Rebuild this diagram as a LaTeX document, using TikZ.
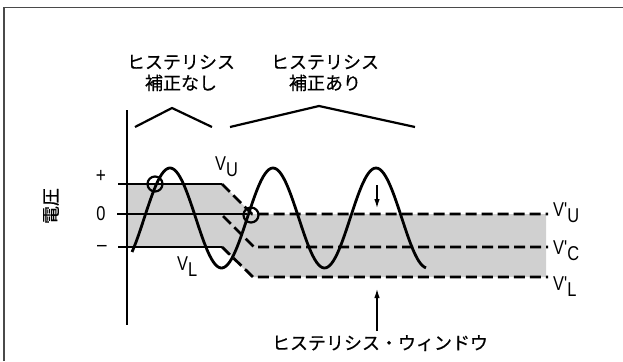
\documentclass[tikz,border=0pt]{standalone}
\usepackage{fontspec}
\usepackage{xcolor}
\usepackage{tikz}
\usetikzlibrary{arrows.meta,positioning}
\newfontfamily\jpfont[FakeBold=0.5]{Noto Sans CJK JP}
\newfontfamily\condfont[FakeStretch=0.82]{Liberation Sans}
\definecolor{WinGray}{HTML}{D0D0D0}
\definecolor{FrameGray}{HTML}{4A4A4A}

\begin{document}
\begin{tikzpicture}[x=1pt, y=-1pt, every node/.style={inner sep=0pt},
    jplabel/.style={font=\jpfont\fontsize{18}{21}\selectfont, align=center},
    vlabel/.style={font=\condfont\fontsize{20}{20}\selectfont, anchor=base west},
    trace/.style={line width=2.8pt},
    dashtrace/.style={line width=2.8pt, dash pattern=on 11pt off 5pt},
    pointer/.style={line width=1.2pt, -{Latex[length=9pt,width=5.5pt]}}]
    \useasboundingbox (0,0) rectangle (623,361);
    \draw[FrameGray, line width=1.6pt] (4,361) -- (4,7.5) -- (623,7.5);
    % hysteresis window
    \fill[WinGray] (127,184) -- (222,184) -- (252,214) -- (546,214) -- (546,277) -- (252,277) -- (222,247) -- (127,247) -- cycle;
    \draw[trace] (127,110) -- (127,325);
    \draw[trace] (118,184) -- (222,184);
    \draw[trace] (117,214) -- (247,214);
    \draw[trace] (118,247) -- (222,247);
    \draw[dashtrace] (222,184) -- (252,214) -- (548,214);
    \draw[dashtrace] (223,216) -- (254,247) -- (548,247);
    \draw[dashtrace] (222,247) -- (253,277) -- (548,277);
    \draw[trace] plot[domain=132:426, samples=160, smooth] (\x, {218 - 50*cos((\x-170)/103*360)});
    \draw[line width=2.2pt] (155,184) circle (7.5pt);
    \draw[line width=2.2pt] (251,215) circle (7.5pt);
    % brackets
    \draw[line width=2.2pt] (135,127) -- (172,108) -- (212,127);
    \draw[line width=2.2pt] (230,127) -- (319,106) -- (415,127);
    \node[jplabel] (nocomp) at (181,73) {ヒステリシス\\補正なし};
    \node[jplabel] (comp) at (325,73) {ヒステリシス\\補正あり};
    \node[jplabel, rotate=90] (volt) at (51,206) {電圧};
    \node[font=\condfont\fontsize{21}{21}\selectfont] (plus) at (101,176) {+};
    \node[font=\condfont\fontsize{20}{20}\selectfont] (zero) at (101,214) {0};
    \node[font=\condfont\fontsize{21}{21}\selectfont] (minus) at (102,248) {–};
    \node[vlabel] (vu) at (215,170) {V\raisebox{-6pt}{U}};
    \node[vlabel] (vl) at (177,270) {V\raisebox{-6pt}{L}};
    \node[vlabel] (vuprime) at (553,216) {V'\raisebox{-6pt}{U}};
    \node[vlabel] (vcprime) at (553,254) {V'\raisebox{-6pt}{C}};
    \node[vlabel] (vlprime) at (553,290) {V'\raisebox{-6pt}{L}};
    \node[jplabel, anchor=north] (window) at (380,335) {ヒステリシス・ウィンドウ};
    \coordinate (dntail) at (377,185);
    \coordinate (dntip) at (377,208);
    \coordinate (uptip) at (377,289);
    \draw[pointer] (dntail) -- (dntip);
    \draw[pointer] ([yshift=4pt]window.north -| uptip) -- (uptip);
\end{tikzpicture}
\end{document}
